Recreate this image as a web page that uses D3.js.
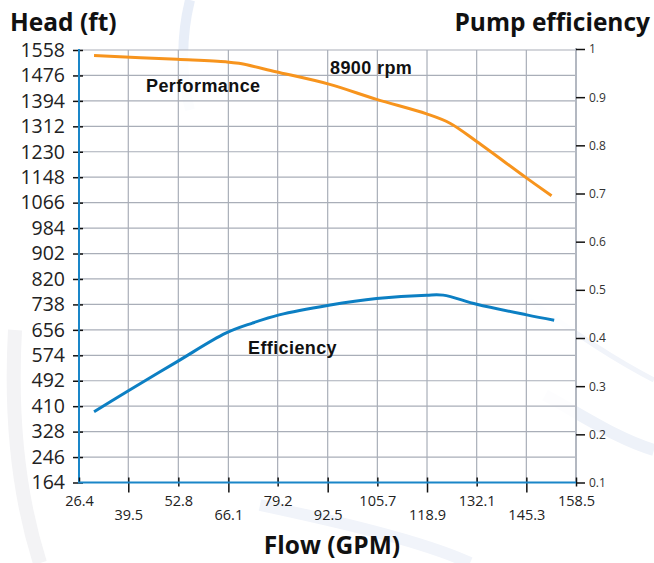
<!DOCTYPE html>
<html>
<head>
<meta charset="utf-8">
<script src="https://cdn.jsdelivr.net/npm/d3@7"></script>
<style>
  body { margin: 0; background: #fff; }
  svg { display: block; }
</style>
</head>
<body>
<svg width="654" height="563"></svg>
<script>
// flow ticks (GPM)
var flowTicks = [26.4, 39.5, 52.8, 66.1, 79.2, 92.5, 105.7, 118.9, 132.1, 145.3, 158.5];
// head ticks (ft)
var headTicks = [164, 246, 328, 410, 492, 574, 656, 738, 820, 902, 984, 1066, 1148, 1230, 1312, 1394, 1476, 1558];
var effTicks = [0.1, 0.2, 0.3, 0.4, 0.5, 0.6, 0.7, 0.8, 0.9, 1];

// performance curve
var perfFlow = [30.4, 52.5, 65.4, 68.9, 78.7, 92.8, 105.5, 118.8, 125.0, 132.1, 145.4, 152.0];
var perfHead = [1540, 1528, 1520, 1515, 1488, 1448, 1399, 1352, 1322, 1263, 1145, 1088];

// efficiency curve
var effFlow = [30.4, 39.2, 52.5, 65.4, 72.5, 79.6, 92.8, 105.5, 118.8, 123.2, 132.1, 145.4, 152.7];
var effVal  = [0.247, 0.289, 0.351, 0.410, 0.431, 0.448, 0.468, 0.482, 0.489, 0.489, 0.470, 0.448, 0.437];

var svg = d3.select("svg"),
    pL = 79, pR = 576, pT = 50, pB = 482.5;

// faint background swooshes
var deco = svg.append("g").attr("fill", "none");
deco.append("path").attr("d", "M190,0 C180,40 182,80 190,110").attr("stroke-width", 10).attr("stroke", "#e8eef8");
deco.append("path").attr("d", "M545,395 C590,420 620,440 654,450").attr("stroke-width", 12).attr("stroke", "#eef2f9");
deco.append("path").attr("d", "M530,300 C570,330 615,360 654,380").attr("stroke-width", 5).attr("stroke", "#f1f4fa");
deco.append("path").attr("d", "M260,505 C330,520 420,540 470,563").attr("stroke-width", 12).attr("stroke", "#f1f4fa");
deco.append("path").attr("d", "M15,330 C10,420 20,500 40,563").attr("stroke-width", 14).attr("stroke", "#f3f3f5");

var x = d3.scaleLinear().domain([26.4, 158.5]).range([pL, pR]);
var yHead = d3.scaleLinear().domain([164, 1558]).range([pB, pT]);
var yEff = d3.scaleLinear().domain([0.1, 1]).range([pB, pT - 1]);

// plot background
svg.append("rect").attr("x", pL).attr("y", pT).attr("width", pR - pL).attr("height", pB - pT)
  .attr("fill", "#fff").attr("fill-opacity", 0.85);

// grid
var grid = svg.append("g").attr("stroke", "#a9aeb8").attr("stroke-width", 1.2);
grid.selectAll(".h").data(headTicks).enter().append("line")
  .attr("x1", pL).attr("x2", pR)
  .attr("y1", function(d) { return yHead(d); }).attr("y2", function(d) { return yHead(d); });
grid.selectAll(".v").data(flowTicks).enter().append("line")
  .attr("y1", pT).attr("y2", pB)
  .attr("x1", function(d) { return x(d); }).attr("x2", function(d) { return x(d); });
svg.append("line").attr("x1", pR).attr("x2", pR).attr("y1", pT - 2).attr("y2", pB)
  .attr("stroke", "#b3b8c1").attr("stroke-width", 2);

// left axis
var yAxis = d3.axisLeft(yHead).tickValues(headTicks).tickSize(6).tickPadding(8).tickFormat(d3.format("d"));
var gl = svg.append("g").attr("transform", "translate(" + pL + ",0)").call(yAxis);
gl.select(".domain").remove();
gl.selectAll(".tick line").attr("stroke", "#111").attr("stroke-width", 1.5).attr("x2", -6).attr("x1", 4);
gl.selectAll(".tick text").attr("font-family", "Open Sans").attr("font-size", 19.5).attr("fill", "#222")
  .attr("x", -14);
svg.append("line").attr("x1", pL).attr("x2", pL).attr("y1", pT - 1).attr("y2", pB)
  .attr("stroke", "#1a86c8").attr("stroke-width", 2);

// right axis
var rAxis = d3.axisRight(yEff).tickValues(effTicks).tickSize(9).tickPadding(4)
  .tickFormat(function(d) { return d === 1 ? "1" : d3.format(".1f")(d); });
var gr = svg.append("g").attr("transform", "translate(" + pR + ",0)").call(rAxis);
gr.select(".domain").remove();
gr.selectAll(".tick line").attr("stroke", "#111").attr("stroke-width", 1.5);
gr.selectAll(".tick text").attr("font-family", "Open Sans").attr("font-size", 12).attr("fill", "#333");

// bottom axis
var xAxis = d3.axisBottom(x).tickValues(flowTicks).tickSize(0).tickFormat(d3.format(".1f"));
var gb = svg.append("g").attr("transform", "translate(0," + pB + ")").call(xAxis);
gb.select(".domain").remove();
gb.selectAll(".tick line").attr("stroke", "#111").attr("stroke-width", 1.5)
  .attr("y1", -5).attr("y2", function(d, i) { return i === 0 ? 0 : (i % 2 ? 10 : 4); });
gb.selectAll(".tick text").attr("font-family", "Open Sans").attr("font-size", 14.5).attr("fill", "#222")
  .attr("dy", null).attr("y", function(d, i) { return i % 2 ? 37 : 23; });
svg.append("line").attr("x1", pL - 1).attr("x2", pR).attr("y1", pB).attr("y2", pB)
  .attr("stroke", "#1a86c8").attr("stroke-width", 2);

// curves
var perfLine = d3.line().curve(d3.curveCatmullRom.alpha(0.5))
  .x(function(d, i) { return x(perfFlow[i]); })
  .y(function(d, i) { return yHead(perfHead[i]); });
svg.append("path").datum(perfFlow).attr("d", perfLine)
  .attr("fill", "none").attr("stroke", "#f7941d").attr("stroke-width", 3);

var effLine = d3.line().curve(d3.curveCatmullRom.alpha(0.5))
  .x(function(d, i) { return x(effFlow[i]); })
  .y(function(d, i) { return yEff(effVal[i]); });
svg.append("path").datum(effFlow).attr("d", effLine)
  .attr("fill", "none").attr("stroke", "#0c7fc3").attr("stroke-width", 3);

// annotations
var ann = svg.append("g").attr("font-family", "Liberation Sans, Arial").attr("font-weight", "bold")
  .attr("font-size", 18).attr("fill", "#111").attr("letter-spacing", 0.4);
ann.append("text").attr("x", 146).attr("y", 92).text("Performance");
ann.append("text").attr("x", 330).attr("y", 74).text("8900 rpm");
ann.append("text").attr("x", 248).attr("y", 354).text("Efficiency");

// titles
var t = svg.append("g").attr("font-family", "Open Sans").attr("font-weight", "bold")
  .attr("font-size", 24.5).attr("fill", "#111");
t.append("text").attr("x", 10).attr("y", 31).text("Head (ft)");
t.append("text").attr("x", 650).attr("y", 31).attr("text-anchor", "end").text("Pump efficiency");
t.append("text").attr("x", 332).attr("y", 554).attr("text-anchor", "middle").text("Flow (GPM)");
</script>
</body>
</html>
